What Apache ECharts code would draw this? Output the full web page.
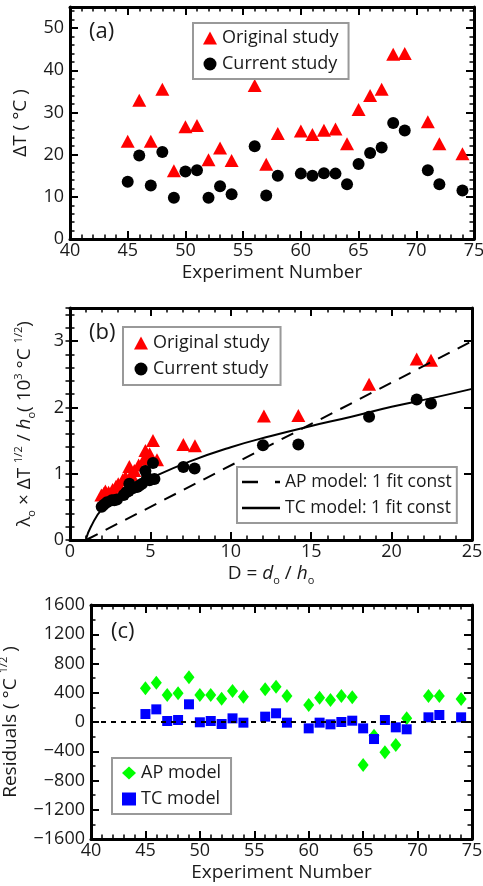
<!DOCTYPE html>
<html><head><meta charset="utf-8">
<script src="https://cdn.jsdelivr.net/npm/echarts@6/dist/echarts.min.js"></script>
<style>html,body{margin:0;padding:0;background:#fff}#c{width:483px;height:886px}</style>
</head><body><div id="c"></div>
<script>
// ---------- Panel (a): temperature difference per experiment ----------
const expNum = [45,46,47,48,49,50,51,52,53,54,56,57,58,60,61,62,63,64,65,66,67,68,69,71,72,74];
const dTOriginal = [23.2,32.9,23.2,35.5,16.2,26.6,26.9,18.8,21.6,18.6,36.4,17.7,25.0,25.6,24.8,25.8,26.1,22.6,30.7,34.0,35.5,43.8,44.0,27.8,22.6,20.2];
const dTCurrent  = [13.6,19.8,12.7,20.6,9.8,16.0,16.3,9.8,12.5,10.6,22.0,10.3,15.0,15.5,15.0,15.6,15.5,13.0,17.8,20.4,21.7,27.5,25.7,16.3,13.0,11.5];

// ---------- Panel (b): scaled quantity vs D ----------
const bOrigD = [21.56,22.45,18.6,14.2,12.06,7.77,7.05,5.16,4.69,4.85,5.41,4.27,3.69,3.81,3.28,2.86,2.65,2.2,1.95,4.6,3.45,3.0,2.4,4.0,4.95,2.1];
const bOrigY = [2.73,2.71,2.35,1.88,1.87,1.42,1.44,1.50,1.35,1.26,1.21,1.13,1.11,0.99,0.91,0.81,0.76,0.74,0.68,1.22,0.95,0.85,0.72,1.05,1.30,0.70];
const bCurD  = [21.56,22.45,18.6,14.2,12.0,7.75,7.05,5.16,4.69,5.25,4.79,4.48,4.17,3.69,3.65,3.34,2.92,2.6,2.3,2.1,1.97,4.95,3.9,2.75,3.5,4.3];
const bCurY  = [2.12,2.06,1.86,1.44,1.43,1.08,1.10,1.16,1.04,0.92,0.94,0.85,0.80,0.85,0.74,0.68,0.61,0.60,0.57,0.53,0.50,0.90,0.78,0.60,0.72,0.82];
const apLineD = [1.0, 25.0];
const apLineY = [0.0, 3.0];
const tcCurveD = [1.0,1.3,2.0,3.0,4.0,5.0,7.5,10.0,12.5,15.0,17.5,20.0,22.5,25.0];
const tcCurveY = [0.02,0.20,0.47,0.66,0.80,0.93,1.19,1.40,1.57,1.72,1.86,2.01,2.14,2.28];

// ---------- Panel (c): residuals ----------
const resAP = [461,538,369,392,611,369,369,319,424,346,447,483,356,233,333,301,356,338,-588,-187,-415,-315,50,356,356,315];
const resTC = [109,173,14,27,242,-4,14,-27,50,-9,73,119,-9,-87,-9,-32,0,18,-87,-233,27,-73,-100,64,96,64];

// tick settings
const xTicksA = {min:40, max:75, interval:5, minorSplit:5};
const yTicksA = {min:0, max:55, interval:10, minor:2};
const xTicksB = {min:0, max:25, interval:5, minorSplit:5};
const yTicksB = {min:0, max:3.5, interval:1, minor:0.2};
const xTicksC = {min:40, max:75, interval:5, minorSplit:5};
const yTicksC = {min:-1600, max:1600, interval:400, minorSplit:2};

const FONT = 'Open Sans';
const TXT = '#1a1a1a';
function rich() {
  return {
    s: {fontSize: 11, fontFamily: FONT, color: TXT, verticalAlign: 'bottom', lineHeight: 24},
    p: {fontSize: 11, fontFamily: FONT, color: TXT, verticalAlign: 'top', lineHeight: 24},
    i: {fontSize: 19, fontFamily: FONT, color: TXT, fontStyle: 'italic', lineHeight: 24},
    n: {fontSize: 19, fontFamily: FONT, color: TXT, lineHeight: 24}
  };
}
const fmt = v => String(Math.round(v * 1000) / 1000).replace('-', '\u2212');
const axLine = () => ({show: true, onZero: false, lineStyle: {color: '#000', width: 3}});
const majTick = () => ({show: true, inside: true, length: 8, lineStyle: {color: '#000', width: 2}});
const minTick = n => ({show: true, splitNumber: n, length: 4.5, lineStyle: {color: '#000', width: 1.5}});

function xAxes(grid, t, name, nameGap) {
  const common = () => ({type: 'value', gridIndex: grid, min: t.min, max: t.max, interval: t.interval,
    splitLine: {show: false}, minorSplitLine: {show: false},
    axisLine: axLine(), axisTick: majTick(), minorTick: minTick(t.minorSplit)});
  return [
    Object.assign(common(), {position: 'bottom',
      axisLabel: {color: TXT, fontSize: 18, fontFamily: FONT, margin: 3, formatter: fmt},
      name: name, nameLocation: 'middle', nameGap: nameGap,
      nameTextStyle: {fontSize: 19, fontFamily: FONT, color: TXT, lineHeight: 24, rich: rich()}}),
    Object.assign(common(), {position: 'top', axisLabel: {show: false}})
  ];
}
function yAxes(grid, t, name, nameGap) {
  const common = () => {
    const o = {type: 'value', gridIndex: grid, min: t.min, max: t.max, interval: t.interval,
      splitLine: {show: false}, minorSplitLine: {show: false}, axisLine: axLine(), axisTick: majTick()};
    if (t.minorSplit) o.minorTick = minTick(t.minorSplit);
    return o;
  };
  const arr = [
    Object.assign(common(), {position: 'left',
      axisLabel: {color: TXT, fontSize: 18, fontFamily: FONT, margin: 6,
                  showMaxLabel: (t.max - t.min) % t.interval === 0, formatter: fmt},
      name: name, nameLocation: 'middle', nameGap: nameGap, nameRotate: 90,
      nameTextStyle: {fontSize: 19, fontFamily: FONT, color: TXT, lineHeight: 24, rich: rich()}}),
    Object.assign(common(), {position: 'right', axisLabel: {show: false}})
  ];
  if (t.minor) {
    ['left', 'right'].forEach(p => arr.push({type: 'value', gridIndex: grid, min: t.min, max: t.max, interval: t.minor, position: p,
      splitLine: {show: false}, axisLine: {show: false}, axisLabel: {show: false},
      axisTick: {show: true, inside: true, length: 4.5, lineStyle: {color: '#000', width: 1.5}}}));
  }
  return arr;
}

const xAxis = [].concat(
  xAxes(0, xTicksA, 'Experiment Number', 21),
  xAxes(1, xTicksB, '{n|D = }{i|d}{s|o}{n| / }{i|h}{s|o}', 20),
  xAxes(2, xTicksC, 'Experiment Number', 21)
);
const yAxis = [].concat(
  yAxes(0, yTicksA, 'ΔT ( °C )', 32),
  yAxes(1, yTicksB, '{n|λ}{s|o}{n| × ΔT }{p|1/2}{n| / }{i|h}{s|o}{n|( 10}{p|3}{n| °C }{p|1/2}{n|)}', 33),
  yAxes(2, yTicksC, '{n|Residuals ( °C }{p|1/2}{n| )}', 54)
);
// y-axis index of each panel's main left axis
const yIdxA = 0, yIdxB = 4, yIdxC = 8;

const scat = (name, xi, yi, sym, size, color, data) => ({
  type: 'scatter', name: name, xAxisIndex: xi, yAxisIndex: yi, symbol: sym, symbolSize: size,
  itemStyle: {color: color, opacity: 1}, data: data
});
function legendBase(extra) {
  return Object.assign({
    orient: 'vertical', itemWidth: 14, itemHeight: 13, itemGap: 8,
    textStyle: {fontSize: 18, fontFamily: FONT, color: TXT},
    borderColor: '#999', borderWidth: 2, backgroundColor: '#fff', padding: [6, 10, 6, 10]
  }, extra);
}
const panelLabel = (txt, left, top) => ({type: 'text', left: left, top: top, style: {text: txt, fontSize: 22, fontFamily: FONT, fill: TXT}});

const option = {
  animation: false,
  backgroundColor: '#fff',
  grid: [
    {left: 70, top: 7, width: 404, height: 232, containLabel: false, outerBoundsMode: 'none'},
    {left: 70, top: 308, width: 402, height: 232, containLabel: false, outerBoundsMode: 'none'},
    {left: 91, top: 605, width: 381, height: 234, containLabel: false, outerBoundsMode: 'none'}
  ],
  xAxis: xAxis,
  yAxis: yAxis,
  legend: [
    legendBase({left: 193, top: 23, data: ['Original study', 'Current study']}),
    legendBase({left: 123, top: 327, padding: [7, 11, 7, 11], data: ['Original study', 'Current study']}),
    legendBase({left: 237, top: 467, itemWidth: 38, itemHeight: 13, padding: [6, 5, 6, 5],
      textStyle: {fontSize: 17.5, fontFamily: FONT, color: TXT}, data: [
      {name: 'AP model: 1 fit const', icon: 'path://M0,0h16v2.5h-16z M33,0h5v2.5h-5z'},
      {name: 'TC model: 1 fit const', icon: 'path://M0,0h38v2.5h-38z'}
    ]}),
    legendBase({left: 112, top: 758, data: ['AP model', 'TC model']})
  ],
  graphic: [panelLabel('(a)', 89, 21), panelLabel('(b)', 89, 322), panelLabel('(c)', 111, 621)],
  series: [
    scat('Original study', 0, yIdxA, 'triangle', [14, 13], '#ff0000', expNum.map((e, i) => [e, dTOriginal[i]])),
    scat('Current study', 0, yIdxA, 'circle', 12, '#000', expNum.map((e, i) => [e, dTCurrent[i]])),
    {type: 'line', name: 'AP model: 1 fit const', xAxisIndex: 2, yAxisIndex: yIdxB, symbol: 'none',
     lineStyle: {color: '#000', width: 2, type: [13, 9]}, itemStyle: {color: '#000'},
     data: apLineD.map((d, i) => [d, apLineY[i]])},
    {type: 'line', name: 'TC model: 1 fit const', xAxisIndex: 2, yAxisIndex: yIdxB, symbol: 'none', smooth: true,
     lineStyle: {color: '#000', width: 2}, itemStyle: {color: '#000'},
     data: tcCurveD.map((d, i) => [d, tcCurveY[i]])},
    scat('Original study', 2, yIdxB, 'triangle', [14, 13], '#ff0000', bOrigD.map((d, i) => [d, bOrigY[i]])),
    scat('Current study', 2, yIdxB, 'circle', 12, '#000', bCurD.map((d, i) => [d, bCurY[i]])),
    scat('AP model', 4, yIdxC, 'diamond', [11, 14], '#00ff00', expNum.map((e, i) => [e, resAP[i]])),
    Object.assign(scat('TC model', 4, yIdxC, 'rect', 10, '#0000ff', expNum.map((e, i) => [e, resTC[i]])), {
      markLine: {silent: true, symbol: 'none', label: {show: false},
        lineStyle: {color: '#000', type: [5, 5], width: 2}, data: [{yAxis: 0}]}
    })
  ]
};
const chart = echarts.init(document.getElementById('c'));
chart.setOption(option);
</script></body></html>
